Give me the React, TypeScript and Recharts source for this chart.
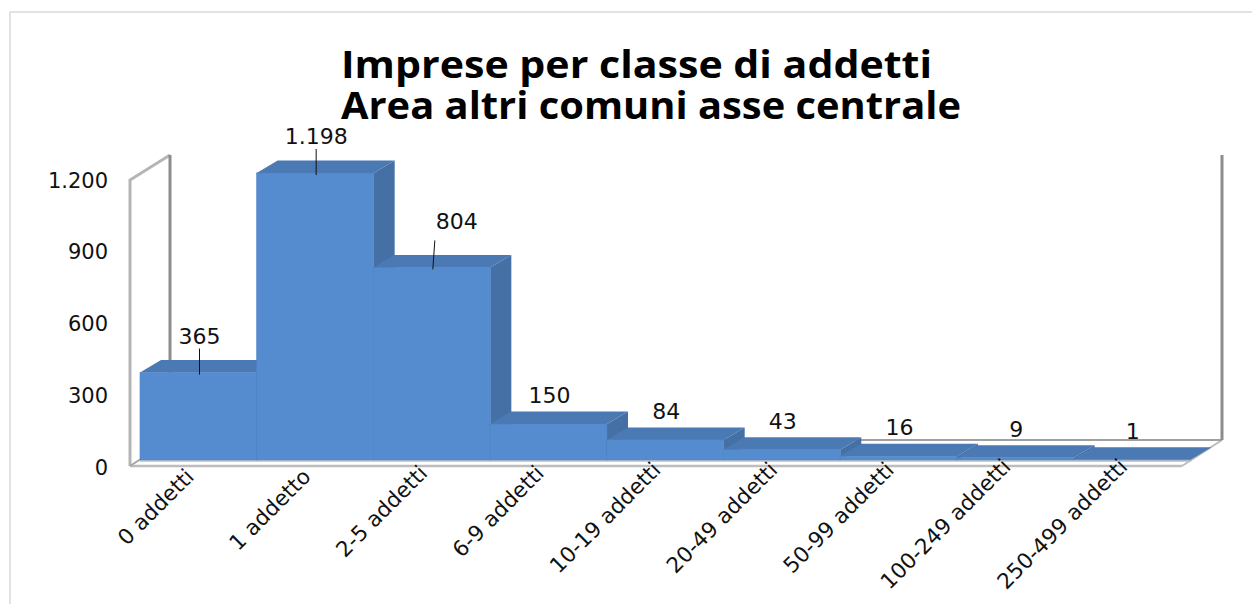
import { BarChart, Bar, XAxis, YAxis, LabelList } from 'recharts'

const CATEGORIES = [
  '0 addetti',
  '1 addetto',
  '2-5 addetti',
  '6-9 addetti',
  '10-19 addetti',
  '20-49 addetti',
  '50-99 addetti',
  '100-249 addetti',
  '250-499 addetti',
]
const IMPRESE = [365, 1198, 804, 150, 84, 43, 16, 9, 1]
const Y_TICKS = [0, 300, 600, 900, 1200]
const TITLE_LINES = ['Imprese per classe di addetti', 'Area altri comuni asse centrale']
const TITLE_WIDTHS = [591, 620]

const data = CATEGORIES.map((name, i) => ({ name, imprese: IMPRESE[i] }))

const FONT = '"DejaVu Sans", Verdana, sans-serif'
const DEPTH_X = 21
const DEPTH_Y = 12.5
const FRONT = '#558CCF'
const TOP = '#4A79B4'
const SIDE = '#4570A6'

const itNumber = (v: number) => v.toLocaleString('it-IT', { useGrouping: 'always' } as Intl.NumberFormatOptions)

function Bar3D({ x, y, width, height }: any) {
  const r = x + width
  const b = y + height
  return (
    <g>
      <polygon points={`${x},${y} ${x + DEPTH_X},${y - DEPTH_Y} ${r + DEPTH_X},${y - DEPTH_Y} ${r},${y}`} fill={TOP} />
      <polygon points={`${r},${y} ${r + DEPTH_X},${y - DEPTH_Y} ${r + DEPTH_X},${b - DEPTH_Y} ${r},${b}`} fill={SIDE} />
      <rect x={x} y={y} width={width} height={height} fill={FRONT} stroke="#4F83C3" strokeWidth={0.6} />
    </g>
  )
}

function YTick({ x, y, payload }: any) {
  return (
    <text x={x - 24} y={y + 15} textAnchor="end" fontFamily={FONT} fontSize={21} fill="#111">
      {itNumber(payload.value)}
    </text>
  )
}

function XTick({ x, y, payload }: any) {
  // longer labels sit a little higher in the original
  const lift = 25 - 1.67 * String(payload.value).length
  return (
    <text
      transform={`translate(${x - 3},${y + lift}) rotate(-45)`}
      textAnchor="end"
      fontFamily={FONT}
      fontSize={21.5}
      fill="#111"
    >
      {payload.value}
    </text>
  )
}

function ValueLabel({ x, y, width, value, index }: any) {
  const cx = x + width / 2
  const tall = value > 300
  const shifted = index === 2
  const labelX = cx + (shifted ? 25 : 1)
  const labelY = y - (tall ? (shifted ? 38 : 29) : 21)
  return (
    <g>
      {tall && (
        <line
          x1={cx + (shifted ? 3 : 1)}
          y1={y - (shifted ? 27 : 24)}
          x2={cx + 1}
          y2={y + 2}
          stroke="#111"
          strokeWidth={1}
        />
      )}
      <text x={labelX} y={labelY} textAnchor="middle" fontFamily={FONT} fontSize={22} fill="#111">
        {itNumber(value)}
      </text>
    </g>
  )
}

function Backdrop() {
  return (
    <svg width={1252} height={604} style={{ position: 'absolute', left: 0, top: 0 }}>
      <polyline points="10,604 10,12 1252,12" fill="none" stroke="#D9D9D9" strokeWidth={1.5} />
      {/* floor and side walls of the 3D box */}
      <polyline points="130,466 130,180 170,155" fill="none" stroke="#B5B5B5" strokeWidth={3} />
      <line x1={170} y1={155} x2={170} y2={440} stroke="#8C8C8C" strokeWidth={3} />
      <line x1={130} y1={466} x2={1182} y2={466} stroke="#BDBDBD" strokeWidth={2.5} />
      <line x1={140} y1={461} x2={1188} y2={461} stroke="#BDBDBD" strokeWidth={1.5} />
      <line x1={130} y1={466} x2={170} y2={440} stroke="#A6A6A6" strokeWidth={2} />
      <line x1={1182} y1={466} x2={1222} y2={440} stroke="#BDBDBD" strokeWidth={2} />
      <line x1={170} y1={440} x2={1222} y2={440} stroke="#A0A0A0" strokeWidth={2} />
      <line x1={1222} y1={155} x2={1222} y2={440} stroke="#8C8C8C" strokeWidth={3} />
      <text fontFamily='"Open Sans", sans-serif' fontWeight="bold" fontSize={38} fill="#000">
        {TITLE_LINES.map((line, i) => (
          <tspan
            key={line}
            x={341}
            y={77.5 + i * 41.5}
            textLength={TITLE_WIDTHS[i]}
            lengthAdjust="spacingAndGlyphs"
          >
            {line}
          </tspan>
        ))}
      </text>
    </svg>
  )
}

export default function App() {
  return (
    <div style={{ position: 'absolute', left: 0, top: 0, width: 1252, height: 604, background: '#fff', overflow: 'hidden' }}>
      <Backdrop />
      <div style={{ position: 'absolute', left: 0, top: 0 }}>
        <BarChart
          width={1252}
          height={604}
          data={data}
          barCategoryGap={0}
          margin={{ top: 172.5, right: 62, bottom: 44, left: 110 }}
        >
          <XAxis
            dataKey="name"
            interval={0}
            height={100}
            axisLine={false}
            tickLine={false}
            tick={<XTick />}
          />
          <YAxis
            width={30}
            domain={[0, 1200]}
            ticks={Y_TICKS}
            axisLine={false}
            tickLine={false}
            tick={<YTick />}
          />
          <Bar dataKey="imprese" shape={<Bar3D />} isAnimationActive={false}>
            <LabelList dataKey="imprese" content={<ValueLabel />} />
          </Bar>
        </BarChart>
      </div>
    </div>
  )
}
